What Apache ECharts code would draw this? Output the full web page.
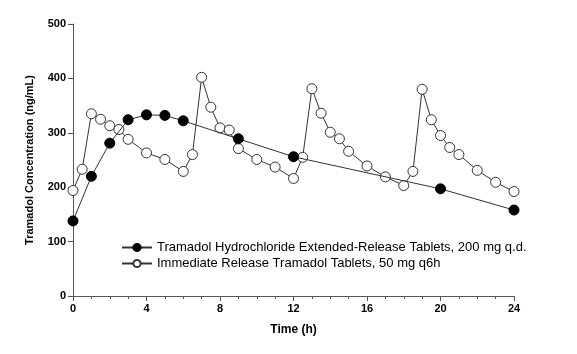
<!DOCTYPE html>
<html>
<head>
<meta charset="utf-8">
<script src="https://cdn.jsdelivr.net/npm/echarts@6/dist/echarts.min.js"></script>
<style>
  html, body { margin: 0; padding: 0; background: #fff; }
  #chart { width: 577px; height: 354px; }
</style>
</head>
<body>
<div id="chart"></div>
<script>
// 徐放錠（1日1回）
const erTimes = [0, 1, 2, 3, 4, 5, 6, 9, 12, 20, 24];
const erValues = [138, 220, 281, 324, 333, 332, 322, 289, 256, 197, 158];

// 速放錠（6時間ごと）
const irTimes = [0, 0.5, 1, 1.5, 2, 2.5, 3, 4, 5, 6, 6.5, 7, 7.5, 8, 8.5, 9, 10, 11, 12,
  12.5, 13, 13.5, 14, 14.5, 15, 16, 17, 18, 18.5, 19, 19.5, 20, 20.5, 21, 22, 23, 24];
const irValues = [194, 233, 335, 325, 313, 306, 288, 263, 251, 229, 260, 402, 347, 309, 305, 271, 251, 237, 216,
  255, 381, 336, 301, 289, 266, 239, 219, 203, 229, 380, 324, 295, 273, 260, 231, 209, 192];

const xTicks = [0, 4, 8, 12, 16, 20, 24];
const yTicks = [0, 100, 200, 300, 400, 500];

const seriesNames = [
  'Tramadol Hydrochloride Extended-Release Tablets, 200 mg q.d.',
  'Immediate Release Tramadol Tablets, 50 mg q6h'
];

const chart = echarts.init(document.getElementById('chart'));

const labelStyle = { color: '#000', fontFamily: 'Liberation Sans, Arial', fontWeight: 'bold', fontSize: 11 };

chart.setOption({
  animation: false,
  backgroundColor: '#fff',
  grid: { left: 73, right: 63, top: 24, bottom: 58 },
  legend: {
    orient: 'vertical',
    left: 116,
    top: 236,
    itemGap: 3,
    itemWidth: 30,
    itemHeight: 9,
    textStyle: { color: '#000', fontFamily: 'Liberation Sans, Arial', fontSize: 13 },
    data: seriesNames
  },
  xAxis: {
    type: 'value',
    min: xTicks[0],
    max: xTicks[xTicks.length - 1],
    interval: 4,
    name: 'Time (h)',
    nameLocation: 'middle',
    nameGap: 28,
    nameTextStyle: Object.assign({}, labelStyle, { fontSize: 12 }),
    axisLine: { lineStyle: { color: '#555', width: 1 } },
    axisTick: { length: 5, lineStyle: { color: '#555' } },
    minorTick: { show: true, splitNumber: 4, length: 3, lineStyle: { color: '#555' } },
    axisLabel: Object.assign({ margin: 7 }, labelStyle),
    splitLine: { show: false }
  },
  yAxis: {
    type: 'value',
    min: yTicks[0],
    max: yTicks[yTicks.length - 1],
    interval: 100,
    name: 'Tramadol Concentration (ng/mL)',
    nameLocation: 'middle',
    nameGap: 38,
    nameTextStyle: labelStyle,
    axisLine: { show: true, lineStyle: { color: '#555', width: 1 } },
    axisTick: { show: true, length: 5, lineStyle: { color: '#555' } },
    axisLabel: Object.assign({ margin: 7 }, labelStyle),
    splitLine: { show: false }
  },
  series: [
    {
      name: seriesNames[0],
      type: 'line',
      data: erTimes.map((t, i) => [t, erValues[i]]),
      symbol: 'circle',
      symbolSize: 10,
      lineStyle: { color: '#333', width: 1 },
      itemStyle: { color: '#000', borderColor: '#000', borderWidth: 1 },
      z: 3
    },
    {
      name: seriesNames[1],
      type: 'line',
      data: irTimes.map((t, i) => [t, irValues[i]]),
      symbol: 'circle',
      symbolSize: 10,
      lineStyle: { color: '#333', width: 1 },
      itemStyle: { color: '#fff', borderColor: '#333', borderWidth: 1 },
      z: 2
    }
  ]
});
</script>
</body>
</html>
